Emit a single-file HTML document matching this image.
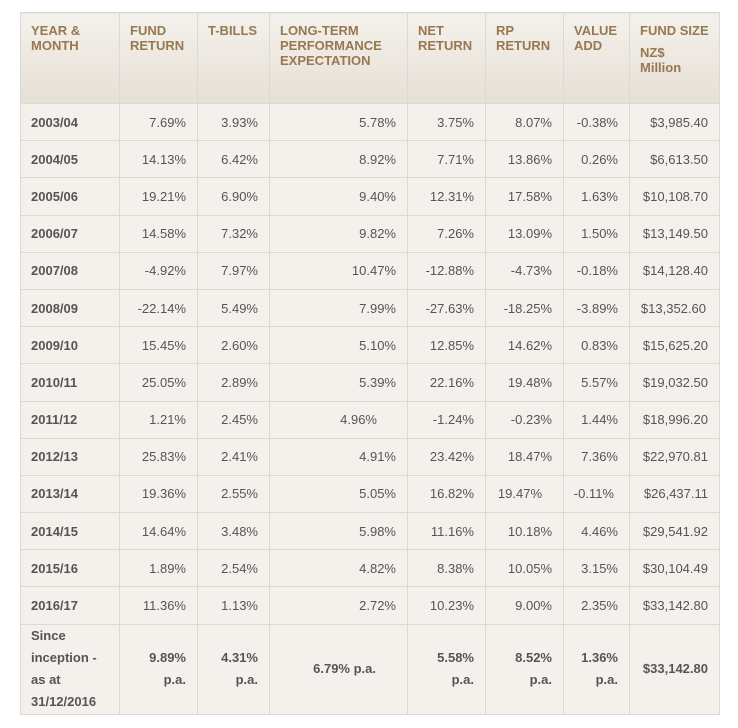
<!DOCTYPE html>
<html><head><meta charset="utf-8"><style>
html,body{margin:0;padding:0;background:#fff;width:738px;height:728px;overflow:hidden}
table{position:absolute;left:20px;top:12px;border-collapse:collapse;table-layout:fixed;width:699px;font-family:"Liberation Sans",Arial,sans-serif}
td,th{border:1px solid #dcd8d2;padding:0 11px 0 2px;font-size:13px;color:#555;text-align:right;background:#f4f1ec;white-space:nowrap}
th{background:linear-gradient(#f4f1ec,#e6dfd5);color:#977850;font-weight:bold;font-size:13px;text-align:left;vertical-align:top;padding:10px 4px 0 10px;line-height:15px;height:80px}
td{height:36.2px}
td:first-child{text-align:left;font-weight:bold;color:#555;padding-left:10px}
tr.last td{height:89px;font-weight:bold;line-height:22px}
i{display:inline-block}
</style></head><body>
<table>
<colgroup><col style="width:99px"><col style="width:78px"><col style="width:72px"><col style="width:138px"><col style="width:78px"><col style="width:78px"><col style="width:66px"><col style="width:90px"></colgroup>
<tr><th>YEAR &amp;<br>MONTH</th><th>FUND<br>RETURN</th><th>T-BILLS</th><th>LONG-TERM<br>PERFORMANCE<br>EXPECTATION</th><th>NET<br>RETURN</th><th>RP<br>RETURN</th><th>VALUE<br>ADD</th><th>FUND SIZE<br><div style="margin-top:7px">NZ$<br>Million</div></th></tr>
<tr><td>2003/04</td><td>7.69%</td><td>3.93%</td><td>5.78%</td><td>3.75%</td><td>8.07%</td><td>-0.38%</td><td>$3,985.40</td></tr>
<tr><td>2004/05</td><td>14.13%</td><td>6.42%</td><td>8.92%</td><td>7.71%</td><td>13.86%</td><td>0.26%</td><td>$6,613.50</td></tr>
<tr><td>2005/06</td><td>19.21%</td><td>6.90%</td><td>9.40%</td><td>12.31%</td><td>17.58%</td><td>1.63%</td><td>$10,108.70</td></tr>
<tr><td>2006/07</td><td>14.58%</td><td>7.32%</td><td>9.82%</td><td>7.26%</td><td>13.09%</td><td>1.50%</td><td>$13,149.50</td></tr>
<tr><td>2007/08</td><td>-4.92%</td><td>7.97%</td><td>10.47%</td><td>-12.88%</td><td>-4.73%</td><td>-0.18%</td><td>$14,128.40</td></tr>
<tr><td>2008/09</td><td>-22.14%</td><td>5.49%</td><td>7.99%</td><td>-27.63%</td><td>-18.25%</td><td>-3.89%</td><td>$13,352.60<i style="width:2px"></i></td></tr>
<tr><td>2009/10</td><td>15.45%</td><td>2.60%</td><td>5.10%</td><td>12.85%</td><td>14.62%</td><td>0.83%</td><td>$15,625.20</td></tr>
<tr><td>2010/11</td><td>25.05%</td><td>2.89%</td><td>5.39%</td><td>22.16%</td><td>19.48%</td><td>5.57%</td><td>$19,032.50</td></tr>
<tr><td>2011/12</td><td>1.21%</td><td>2.45%</td><td>4.96%<i style="width:19px"></i></td><td>-1.24%</td><td>-0.23%</td><td>1.44%</td><td>$18,996.20</td></tr>
<tr><td>2012/13</td><td>25.83%</td><td>2.41%</td><td>4.91%</td><td>23.42%</td><td>18.47%</td><td>7.36%</td><td>$22,970.81</td></tr>
<tr><td>2013/14</td><td>19.36%</td><td>2.55%</td><td>5.05%</td><td>16.82%</td><td>19.47%<i style="width:10px"></i></td><td>-0.11%<i style="width:4px"></i></td><td>$26,437.11</td></tr>
<tr><td>2014/15</td><td>14.64%</td><td>3.48%</td><td>5.98%</td><td>11.16%</td><td>10.18%</td><td>4.46%</td><td>$29,541.92</td></tr>
<tr><td>2015/16</td><td>1.89%</td><td>2.54%</td><td>4.82%</td><td>8.38%</td><td>10.05%</td><td>3.15%</td><td>$30,104.49</td></tr>
<tr><td>2016/17</td><td>11.36%</td><td>1.13%</td><td>2.72%</td><td>10.23%</td><td>9.00%</td><td>2.35%</td><td>$33,142.80</td></tr>
<tr class="last"><td>Since<br>inception -<br>as at<br>31/12/2016</td><td>9.89%<br>p.a.</td><td>4.31%<br>p.a.</td><td>6.79% p.a.<i style="width:20px"></i></td><td>5.58%<br>p.a.</td><td>8.52%<br>p.a.</td><td>1.36%<br>p.a.</td><td>$33,142.80</td></tr>
</table>
</body></html>
